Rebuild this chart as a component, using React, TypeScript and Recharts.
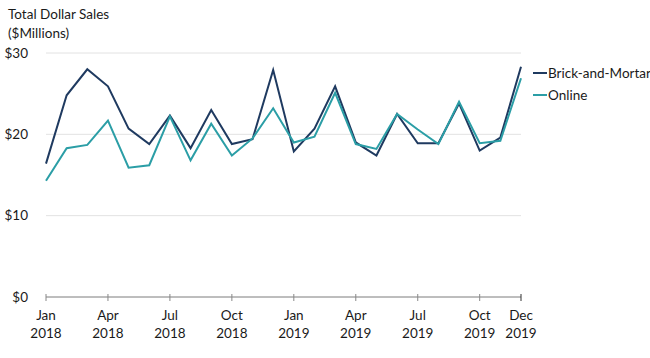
import React from 'react';
import { LineChart, Line, XAxis, YAxis, CartesianGrid } from 'recharts';

const months = [
  'Jan 2018', 'Feb 2018', 'Mar 2018', 'Apr 2018', 'May 2018', 'Jun 2018',
  'Jul 2018', 'Aug 2018', 'Sep 2018', 'Oct 2018', 'Nov 2018', 'Dec 2018',
  'Jan 2019', 'Feb 2019', 'Mar 2019', 'Apr 2019', 'May 2019', 'Jun 2019',
  'Jul 2019', 'Aug 2019', 'Sep 2019', 'Oct 2019', 'Nov 2019', 'Dec 2019',
];

const brickAndMortar = [
  16.4, 24.8, 28.0, 25.9, 20.7, 18.8, 22.3, 18.3, 23.0, 18.8, 19.4, 27.9,
  17.9, 20.7, 25.9, 19.0, 17.4, 22.5, 18.9, 18.9, 23.8, 18.0, 19.6, 28.3,
];

const online = [
  14.3, 18.3, 18.7, 21.7, 15.9, 16.2, 22.2, 16.8, 21.3, 17.4, 19.5, 23.2,
  19.0, 19.7, 25.1, 18.8, 18.2, 22.5, 20.6, 18.8, 24.0, 18.9, 19.2, 26.9,
];

const xTicks = [
  'Jan 2018', 'Apr 2018', 'Jul 2018', 'Oct 2018',
  'Jan 2019', 'Apr 2019', 'Jul 2019', 'Oct 2019', 'Dec 2019',
];
const yTicks = [0, 10, 20, 30];

const data = months.map((m, i) => ({
  month: m,
  brick: brickAndMortar[i],
  online: online[i],
}));

const FONT = 'Lato, "Open Sans", sans-serif';
const TEXT = '#1a1a1a';
const BRICK = '#1f3a60';
const ONLINE = '#2b9ea6';

const series = [
  { key: 'brick', name: 'Brick-and-Mortar', color: BRICK },
  { key: 'online', name: 'Online', color: ONLINE },
];

function MonthTick(props: any) {
  const { x, y, payload } = props;
  const [mon, yr] = String(payload.value).split(' ');
  const last = payload.value === 'Dec 2019';
  return (
    <g>
      <line x1={x} x2={x} y1={y - 3} y2={y + 4} stroke={last ? '#333' : '#888'} strokeWidth={1} />
      <text x={x} y={y + 23} textAnchor="middle" fill={TEXT} fontSize={13.5} fontFamily={FONT}>{mon}</text>
      <text x={x} y={y + 41} textAnchor="middle" fill={TEXT} fontSize={13.5} fontFamily={FONT}>{yr}</text>
    </g>
  );
}

export default function App() {
  return (
    <div style={{ position: 'absolute', left: 0, top: 0, width: 650, height: 358, background: '#fff' }}>
      <div style={{ position: 'absolute', left: 8, top: 5, fontFamily: FONT, fontSize: 13.5, color: TEXT, lineHeight: '19px', whiteSpace: 'nowrap' }}>
        Total Dollar Sales
        <br />
        ($Millions)
      </div>
      <div style={{ position: 'absolute', left: 533, top: 62, width: 117, fontFamily: FONT, fontSize: 13.5, color: TEXT, whiteSpace: 'nowrap' }}>
        {series.map((s) => (
          <div key={s.key} style={{ display: 'flex', alignItems: 'center', height: 22 }}>
            <span style={{ width: 14, height: 2, background: s.color, display: 'inline-block', marginRight: 1, flexShrink: 0 }} />
            {s.name}
          </div>
        ))}
      </div>
      <LineChart width={650} height={358} data={data} margin={{ top: 53, right: 129, left: 0, bottom: 0 }}>
        <CartesianGrid vertical={false} stroke="#e2e2e2" />
        <XAxis
          dataKey="month"
          ticks={xTicks}
          interval={0}
          height={61}
          tickLine={false}
          tickSize={0}
          tickMargin={0}
          axisLine={{ stroke: '#8a8a8a' }}
          tick={<MonthTick />}
        />
        <YAxis
          domain={[0, 30]}
          ticks={yTicks}
          width={46}
          axisLine={false}
          tickLine={false}
          tickMargin={12}
          tickFormatter={(v: number) => `$${v}`}
          tick={{ fill: TEXT, fontSize: 13.5, fontFamily: FONT }}
        />
        {series.map((s) => (
          <Line key={s.key} dataKey={s.key} name={s.name} stroke={s.color} strokeWidth={2} dot={false} isAnimationActive={false} />
        ))}
      </LineChart>
    </div>
  );
}
